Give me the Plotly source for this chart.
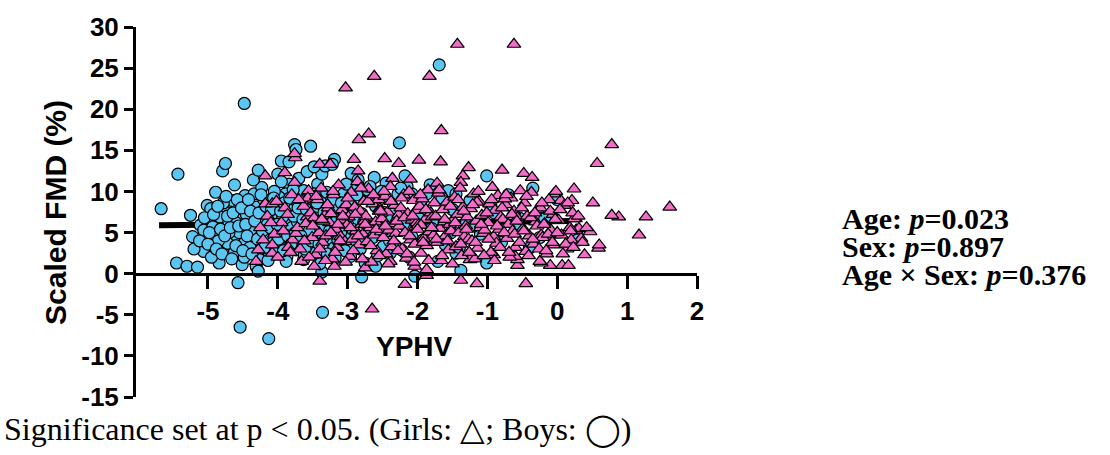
import plotly.graph_objects as go

# ---- data: YPHV (years from peak height velocity) vs scaled FMD (%) ----
boys_yphv = [
    -5.67, -5.43, -5.45, -5.30, -5.15, -4.84, -4.51, -5.06, -5.22, -5.25,
    -5.01, -4.96, -4.89, -4.79, -4.75, -4.48, -5.11, -5.06, -4.91, -4.93,
    -4.75, -4.65, -4.57, -4.47, -4.34, -4.23, -4.67, -4.62, -4.49, -4.62,
    -4.72, -4.78, -4.83, -4.70, -4.54, -4.41, -4.47, -4.36, -4.31, -4.23,
    -4.13, -4.05, -4.21, -4.18, -4.08, -3.97, -4.31, -4.26, -4.28, -4.57,
    -4.54, -4.13, -4.00, -3.95, -3.76, -3.74, -3.53, -3.84, -3.89, -3.79,
    -3.95, -4.00, -3.84, -3.89, -3.82, -3.95, -3.87, -3.74, -3.69, -3.63,
    -3.69, -3.58, -3.63, -3.43, -3.37, -3.19, -3.32, -3.22, -3.48, -3.53,
    -3.48, -3.56, -3.63, -3.43, -3.37, -3.36, -3.27, -3.17, -3.12, -3.22,
    -3.06, -2.91, -2.96, -2.80, -3.01, -2.91, -2.96, -2.80, -2.75, -2.62,
    -2.67, -2.60, -2.60, -2.49, -2.39, -2.28, -2.26, -2.18, -2.08, -2.04,
    -1.92, -1.87, -1.71, -1.56, -1.45, -1.38, -1.25, -1.01, -1.01, -1.45,
    -2.08, -2.39, -2.23, -1.77, -0.18, 0.29, 0.00, -1.69, -2.90, -2.70,
    -2.50, -2.40, -2.20, -2.00, -1.80, -1.60, -2.60, -3.00, -2.80, -1.30,
    -1.10, -0.90, -0.60, -0.40, -1.50, -3.30, -3.10, -3.40, -4.45, -4.38,
    -4.30, -4.25, -4.15, -4.10, -4.02, -3.98, -3.93, -3.90, -3.85, -3.80,
    -3.78, -3.72, -3.68, -3.65, -3.60, -3.55, -3.50, -3.45, -3.42, -3.38,
    -3.35, -3.30, -3.25, -3.20, -3.15, -3.10, -3.05, -3.02, -4.55, -4.60,
    -4.40, -4.05, -3.95, -3.70, -3.58, -4.20, -4.12, -3.88, -3.62, -3.40,
    -3.18, -4.48, -4.70, -4.85, -4.95, -4.78, -4.62, -4.35, -4.28, -3.84,
    -3.48, -2.95, -2.85, -2.72, -2.55, -2.45, -2.35, -2.15, -1.95, -1.82,
    -1.65, -1.52, -1.40, -1.20, -0.95, -0.80, -0.70, -0.55, -0.35, -0.25,
    -5.20, -5.12, -5.05, -5.00, -4.98, -4.92, -4.88, -4.86, -4.82, -4.80,
    -4.76, -4.74, -4.72, -4.68, -4.66, -4.64, -4.60, -4.58, -4.56, -4.52,
    -4.50, -4.46, -4.44, -4.42, -4.39, -4.37, -4.33, -4.29, -4.27, -4.24,
    -4.22, -4.19, -4.17, -4.14, -4.11, -4.09, -4.06, -4.03, -4.01, -3.99,
    -3.96, -3.92, -3.91, -3.86, -3.83, -3.81, -3.77, -3.75, -3.71, -3.67,
    -3.64, -3.61, -3.59, -3.54, -3.52, -3.47, -3.44, -3.41, -3.39, -3.34,
    -3.29, -3.26, -3.23, -3.19, -3.14, -3.09, -3.04, -2.99, -2.93, -2.87,
    -2.82, -2.77, -2.68, -2.64, -2.57, -2.52, -2.44, -2.32, -2.24, -2.12,
]
boys_fmd = [
    7.9, 12.1, 1.3, 0.9, 0.8, 1.3, 1.1, 2.7, 4.5, 7.1,
    8.3, 7.9, 9.9, 12.5, 13.4, 20.7, 5.9, 5.3, 6.3, 5.7,
    7.5, 8.9, 7.7, 9.5, 9.7, 10.5, 3.5, 2.7, 4.1, 4.5,
    3.7, 5.9, 6.9, 6.3, 6.5, 6.9, 5.3, 4.9, 5.9, 6.7,
    7.3, 6.5, 4.5, 2.9, 3.7, 2.5, 0.9, 1.7, 0.3, -1.1,
    -6.5, -7.9, 12.1, 13.7, 15.7, 15.1, 15.5, 10.9, 9.7, 8.9,
    8.1, 7.3, 6.5, 5.3, 4.1, 3.3, 2.1, 2.9, 4.1, 5.7,
    7.3, 8.5, 10.1, 10.9, 12.1, 13.9, 13.1, 13.3, 9.7, 6.5,
    4.9, 3.3, 1.7, 2.1, 0.2, -4.7, 4.1, 2.9, 5.7, 7.7,
    9.7, 10.5, 8.5, 7.3, 4.9, 3.3, 2.1, -0.4, 1.3, 11.7,
    9.7, 5.7, 0.9, 3.3, 6.5, 9.7, 15.9, 11.9, 9.7, -0.3,
    4.1, 9.7, 1.5, 10.1, 9.7, 0.4, 8.9, 11.9, 1.3, 2.5,
    4.5, 2.5, 2.9, 6.1, 6.7, 4.1, 9.0, 25.4, 6.5, 5.0,
    7.5, 4.0, 6.0, 7.0, 5.5, 3.5, 8.2, 6.0, 4.2, 6.2,
    4.8, 7.4, 5.9, 3.1, 7.8, 6.8, 3.4, 8.0, 7.2, 5.4,
    8.1, 3.6, 6.0, 8.7, 4.8, 9.3, 6.9, 3.0, 7.8, 5.6,
    10.2, 6.3, 8.4, 3.9, 9.0, 5.2, 7.6, 2.6, 6.0, 8.8,
    4.4, 9.9, 6.6, 3.1, 8.0, 5.0, 7.1, 10.9, 5.0, 6.2,
    3.2, 10.0, 11.2, 11.6, 12.4, 9.0, 2.2, 1.5, 2.3, 1.2,
    1.9, 2.0, 5.0, 4.0, 2.0, 8.6, 10.8, 11.4, 12.6, 13.6,
    13.0, 12.2, 11.4, 10.2, 9.0, 11.0, 8.0, 10.6, 8.8, 10.8,
    9.2, 5.0, 3.2, 5.8, 8.2, 3.8, 9.6, 6.8, 10.4, 4.4,
    3.0, 4.0, 6.8, 3.6, 5.0, 7.2, 3.0, 8.2, 5.4, 2.4,
    4.6, 9.4, 7.0, 5.6, 1.8, 7.4, 3.4, 9.0, 5.8, 8.0,
    2.8, 6.0, 4.6, 9.0, 7.6, 2.4, 6.4, 4.2, 7.4, 9.6,
    5.2, 3.2, 8.2, 1.6, 5.6, 7.8, 9.2, 3.0, 6.0, 4.2,
    7.6, 2.8, 8.6, 4.6, 9.2, 3.6, 7.0, 5.0, 8.0, 4.6,
    6.6, 3.0, 7.8, 9.4, 4.0, 6.8, 8.6, 3.6, 5.6, 7.4,
    2.4, 5.2, 9.0, 6.2, 4.0, 8.6, 2.8, 7.0, 5.4, 9.6,
    3.0, 6.2, 10.6, 4.4, 2.2, 10.0, 5.2, 3.4, 10.4, 2.0,
]

girls_yphv = [
    -3.03, -2.62, -1.43, -0.62, -1.83, -1.66, 0.78, -2.84, -2.70, -3.75,
    -3.76, -4.18, -3.90, -3.76, -3.40, -3.25, -2.91, -2.85, -2.47, -2.27,
    -1.98, -1.67, -1.27, -1.35, -1.38, -0.79, -0.48, -0.36, 0.57, -2.36,
    -2.10, -1.72, -4.18, -4.08, -4.31, -4.28, -4.08, -4.08, -4.21, -3.79,
    -3.74, -3.58, -3.56, -3.66, -3.40, -2.65, -2.18, -1.87, -1.38, -1.15,
    -0.45, 0.07, 0.16, -0.10, -0.23, -0.57, -0.57, -3.48, -3.66, -3.19,
    -2.75, -2.39, -2.04, -1.87, -1.25, -0.91, -0.60, -0.25, 0.39, 1.61,
    1.27, 1.17, 0.88, 0.78, 0.51, 0.59, 0.60, 0.47, 0.26, 0.24,
    0.21, 0.05, -0.05, 0.34, 0.27, 0.20, -4.25, -4.15, -4.05, -3.95,
    -3.90, -3.85, -3.80, -4.00, -0.04, -0.23, 0.31, 0.24, -3.72, -3.68,
    -3.63, -3.60, -3.57, -3.53, -3.51, -3.48, -3.46, -3.43, -3.41, -3.38,
    -3.36, -3.33, -3.31, -3.28, -3.26, -3.24, -3.22, -3.20, -3.17, -3.15,
    -3.13, -3.10, -3.08, -3.06, -3.04, -3.02, -3.01, -2.99, -2.97, -2.95,
    -2.93, -2.90, -2.88, -2.86, -2.84, -2.82, -2.80, -2.78, -2.77, -2.76,
    -2.74, -2.72, -2.70, -2.68, -2.66, -2.64, -2.62, -2.60, -2.58, -2.56,
    -2.54, -2.52, -2.51, -2.49, -2.47, -2.45, -2.43, -2.41, -2.39, -2.37,
    -2.35, -2.33, -2.31, -2.29, -2.27, -2.26, -2.24, -2.22, -2.20, -2.18,
    -2.16, -2.14, -2.12, -2.10, -2.08, -2.06, -2.04, -2.03, -2.02, -2.01,
    -1.99, -1.97, -1.95, -1.93, -1.91, -1.89, -1.87, -1.85, -1.83, -1.81,
    -1.79, -1.77, -1.74, -1.72, -1.70, -1.68, -1.66, -1.64, -1.62, -1.60,
    -1.58, -1.56, -1.54, -1.52, -1.49, -1.47, -1.45, -1.43, -1.41, -1.39,
    -1.37, -1.35, -1.33, -1.31, -1.29, -1.27, -1.24, -1.22, -1.20, -1.18,
    -1.16, -1.14, -1.12, -1.10, -1.08, -1.06, -1.04, -0.99, -0.97, -0.95,
    -0.93, -0.91, -0.89, -0.87, -0.85, -0.83, -0.81, -0.78, -0.74, -0.72,
    -0.70, -0.68, -0.66, -0.64, -0.62, -0.60, -0.57, -0.53, -0.49, -0.47,
    -0.45, -0.43, -0.40, -0.37, -0.34, -0.31, -0.28, -0.24, -0.21, -0.18,
    -0.15, -0.12, -0.09, -0.06, -0.04, -0.02, 0.02, 0.06, 0.10, 0.14,
    0.18, 0.22, 0.30, 0.36, 0.42, -2.55, -1.95, -1.15, -0.75, -3.35,
    -3.62, -3.55, -3.50, -3.45, -3.40, -3.37, -3.32, -3.29, -3.24, -3.21,
    -3.18, -3.14, -3.11, -3.07, -3.03, -3.00, -2.96, -2.92, -2.89, -2.85,
    -2.81, -2.79, -2.75, -2.71, -2.67, -2.63, -2.59, -2.55, -2.53, -2.48,
    -2.46, -2.42, -2.38, -2.34, -2.30, -2.28, -2.23, -2.19, -2.15, -2.11,
    -2.07, -2.05, -2.00, -1.96, -1.92, -1.88, -1.84, -1.80, -1.76, -1.73,
    -1.69, -1.65, -1.61, -1.57, -1.53, -1.50, -1.46, -1.42, -1.38, -1.34,
    -1.30, -1.26, -1.21, -1.17, -1.13, -1.09, -1.05, -1.01, -0.98, -0.94,
    -0.90, -0.86, -0.82, -0.79, -0.76, -0.73, -0.69, -0.65, -0.61, -0.58,
    -0.54, -0.51, -0.48, -0.44, -0.41, -0.38, -0.35, -0.32, -0.29, -0.26,
    -0.22, -0.19, -0.16, -0.13, -0.10, -0.07, -0.03, 0.00, 0.04, 0.08,
    0.12, 0.15, 0.19, 0.23, -4.10, -4.02, -3.92, -3.86, -3.82, -3.70,
]
girls_fmd = [
    22.6, 24.0, 27.9, 27.9, 24.0, 17.4, 15.7, 16.3, 17.0, 14.1,
    14.6, 11.9, 12.3, 11.1, 13.3, 13.3, 13.9, 12.5, 14.0, 13.4,
    13.8, 13.6, 12.9, 11.9, 11.1, 12.6, 12.2, 11.7, 13.4, 11.6,
    11.5, 11.0, 8.5, 8.5, 1.5, 2.9, 2.5, 3.5, 4.1, 4.1,
    4.9, 6.9, 10.1, 8.9, -0.9, -4.3, -1.3, -0.2, -0.8, -1.2,
    -1.2, 1.0, 1.0, 1.0, 1.3, 1.0, 1.7, 0.9, 1.5, 0.9,
    0.7, 1.5, 0.9, 0.5, 1.7, 2.3, 2.1, 1.5, 2.3, 8.1,
    6.9, 4.7, 6.9, 7.1, 8.6, 3.1, 3.5, 5.1, 6.7, 10.3,
    8.9, 8.9, 9.7, 4.3, 5.3, 4.1, 5.6, 7.0, 4.8, 6.2,
    8.0, 3.2, 9.6, 2.0, 4.7, 4.7, 5.5, 6.7, 5.6, 3.0,
    8.2, 6.1, 9.2, 7.4, 4.4, 6.8, 2.3, 9.0, 5.0, 10.4,
    3.8, 7.1, 4.6, 8.0, 6.2, 7.3, 1.8, 9.6, 5.4, 3.2,
    10.8, 4.5, 7.8, 6.5, 3.9, 8.4, 5.9, 6.9, 2.1, 9.9,
    4.2, 8.1, 5.2, 11.2, 3.5, 7.6, 6.0, 4.8, 8.8, 6.4,
    7.0, 3.9, 10.3, 5.6, 1.4, 8.5, 4.7, 6.3, 2.8, 9.0,
    7.9, 5.1, 6.7, 4.4, 9.4, 2.4, 7.5, 5.3, 10.6, 3.3,
    6.1, 8.3, 4.9, 6.8, 7.2, 5.8, 8.0, 3.0, 9.6, 5.0,
    1.9, 7.3, 10.0, 4.1, 6.5, 8.9, 3.6, 5.7, 7.7, 6.2,
    5.9, 8.2, 2.5, 9.1, 4.3, 6.6, 3.4, 10.2, 5.1, 7.4,
    6.9, 4.7, 7.0, 3.8, 9.8, 5.5, 1.6, 7.8, 6.3, 4.6,
    8.7, 2.9, 6.0, 5.2, 6.5, 9.3, 3.3, 7.2, 5.0, 10.4,
    2.2, 8.1, 4.5, 5.8, 6.9, 4.2, 7.9, 4.0, 9.7, 1.8,
    6.4, 3.1, 8.8, 5.6, 7.1, 4.9, 5.3, 6.2, 8.5, 2.6,
    10.5, 4.5, 7.7, 3.7, 9.5, 5.4, 6.9, 6.6, 8.4, 4.3,
    6.0, 2.0, 9.2, 5.2, 7.6, 3.2, 6.8, 10.1, 5.5, 8.6,
    2.7, 7.0, 4.6, 9.9, 3.6, 6.3, 7.8, 8.0, 4.4, 6.1,
    2.4, 9.0, 5.3, 7.2, 3.5, 10.0, 6.5, 4.7, 8.3, 3.0,
    5.6, 7.4, 7.0, 3.8, 5.6, 7.6, 5.9, 8.7, 9.1, 6.4,
    4.0, 2.0, 5.8, 9.4, 3.0, 6.6, 1.6, 8.4, 5.0, 10.0,
    2.6, 6.0, 4.0, 7.0, 1.4, 9.2, 5.6, 2.8, 7.2, 4.6,
    10.4, 1.8, 6.0, 8.8, 3.4, 9.6, 5.4, 2.2, 7.6, 10.0,
    5.8, 1.2, 8.8, 4.0, 6.4, 2.8, 9.2, 6.8, 2.4, 4.6,
    7.0, 1.4, 5.4, 9.6, 3.8, 7.8, 1.6, 5.6, 8.6, 4.2,
    10.2, 2.2, 6.6, 4.0, 8.2, 1.2, 6.2, 9.0, 3.6, 7.6,
    5.4, 2.6, 8.4, 3.8, 10.0, 6.0, 2.2, 7.4, 4.2, 9.0,
    1.6, 5.8, 3.2, 8.0, 5.0, 9.6, 2.6, 7.2, 4.8, 6.4,
    3.8, 8.0, 5.2, 9.4, 2.2, 6.8, 4.2, 7.4, 5.8, 3.0,
    8.6, 6.0, 2.8, 4.8, 7.6, 3.8, 6.6, 5.0, 7.8, 2.4,
    3.6, 8.6, 5.2, 3.2, 6.2, 8.8, 5.2, 7.2, 2.6, 9.0,
]

# fitted trend across YPHV
trend_yphv = [-5.70, 0.20]
trend_fmd = [5.9, 6.4]

x_ticks = [-5, -4, -3, -2, -1, 0, 1, 2]
y_ticks = [-15, -10, -5, 0, 5, 10, 15, 20, 25, 30]

BOY_BLUE = "#5BC6F2"
GIRL_PINK = "#F26CC8"
SANS = "Liberation Sans, Arial, sans-serif"
SERIF = "Liberation Serif, Times New Roman, serif"

fig = go.Figure()
fig.add_trace(go.Scatter(
    x=trend_yphv, y=trend_fmd, mode="lines",
    line=dict(color="black", width=6), hoverinfo="skip",
))
fig.add_trace(go.Scatter(
    x=boys_yphv, y=boys_fmd, mode="markers", name="Boys",
    marker=dict(symbol="circle", size=12, color=BOY_BLUE,
                line=dict(color="black", width=1.2)),
))
fig.add_trace(go.Scatter(
    x=girls_yphv, y=girls_fmd, mode="markers", name="Girls",
    marker=dict(symbol="triangle-up", size=12, color=GIRL_PINK,
                line=dict(color="black", width=1.2)),
))

tick_font = dict(family=SANS, size=26, color="black", weight="bold")

fig.update_layout(
    width=1110, height=455,
    margin=dict(l=136, r=413, t=21, b=58),
    paper_bgcolor="white", plot_bgcolor="white",
    showlegend=False,
    xaxis=dict(
        range=[-6.03, 2.0], anchor="free", position=1 / 3,
        tickvals=x_ticks, ticktext=[str(v) for v in x_ticks],
        showline=True, linecolor="black", linewidth=3,
        ticks="outside", ticklen=13, tickwidth=3, tickcolor="black",
        showgrid=False, zeroline=False, tickfont=tick_font,
    ),
    yaxis=dict(
        range=[-15, 30],
        tickvals=y_ticks, ticktext=[str(v) for v in y_ticks],
        showline=True, linecolor="black", linewidth=3,
        ticks="outside", ticklen=9, tickwidth=3, tickcolor="black",
        showgrid=False, zeroline=False, tickfont=tick_font,
    ),
)

annotations = [
    dict(text="<b>Scaled FMD (%)</b>", textangle=-90,
         x=-0.1444, y=0.5, xref="paper", yref="paper",
         xanchor="center", yanchor="middle", showarrow=False,
         font=dict(family=SANS, size=30, color="black")),
    dict(text="<b>YPHV</b>", x=0.496, y=0.136, xref="paper", yref="paper",
         xanchor="center", yanchor="middle", showarrow=False,
         font=dict(family=SANS, size=28, color="black")),
]

stats_lines = [
    "<b>Age: <i>p</i>=0.023</b>",
    "<b>Sex: <i>p</i>=0.897</b>",
    "<b>Age × Sex: <i>p</i>=0.376</b>",
]
stats_y = [0.482, 0.407, 0.330]
for line, yy in zip(stats_lines, stats_y):
    annotations.append(dict(
        text=line, x=1.2549, y=yy, xref="paper", yref="paper",
        xanchor="left", yanchor="middle", showarrow=False,
        font=dict(family=SERIF, size=30, color="black"),
    ))

annotations.append(dict(
    text="Significance set at p < 0.05. (Girls: △; Boys: ◯)",
    x=-0.2395, y=-0.088, xref="paper", yref="paper",
    xanchor="left", yanchor="middle", showarrow=False,
    font=dict(family=SERIF, size=32, color="black"),
))

fig.update_layout(annotations=annotations)
fig.write_html("out.html")
